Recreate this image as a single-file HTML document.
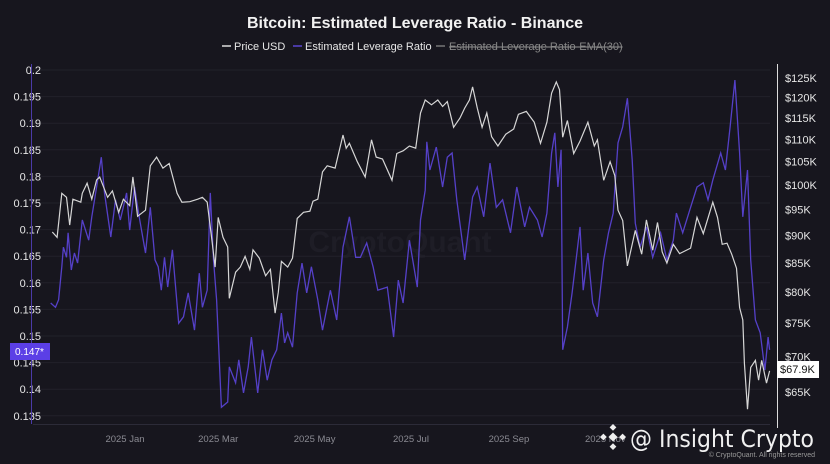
<!DOCTYPE html>
<html><head><meta charset="utf-8"><style>
html,body{margin:0;padding:0;background:#17161e;}
body{width:830px;height:464px;overflow:hidden;font-family:"Liberation Sans",sans-serif;}
svg{display:block}
</style></head><body>
<svg id="chart" width="830" height="464" xmlns="http://www.w3.org/2000/svg">
<rect width="830" height="464" fill="#17161e"/>
<text x="415" y="28" text-anchor="middle" fill="#f2f2f2" font-size="16" font-weight="bold">Bitcoin: Estimated Leverage Ratio - Binance</text>
<g font-size="11" fill="#e6e6e6">
 <g><line x1="222" y1="46" x2="231" y2="46" stroke="#ddd" stroke-width="1.5"/><text x="234" y="50">Price USD</text></g>
 <g><line x1="293" y1="46" x2="302" y2="46" stroke="#5a45d0" stroke-width="1.5"/><text x="305" y="50">Estimated Leverage Ratio</text></g>
 <g><line x1="436" y1="46" x2="445" y2="46" stroke="#777" stroke-width="1.5"/><text x="449" y="50" fill="#888" text-decoration="line-through">Estimated Leverage Ratio-EMA(30)</text></g>
</g>
<text x="400" y="252" text-anchor="middle" fill="#1e1d26" font-size="30" font-weight="bold">CryptoQuant</text>
<g id="grid"></g><g id="axes"></g>
<path id="lev" fill="none" stroke="#5540c8" stroke-width="1.3"/>
<path id="price" fill="none" stroke="#d6d6d6" stroke-width="1.2"/>
<g><rect x="10" y="343" width="40" height="17" fill="#5b3fe6"/><text x="15" y="355" fill="#fff" font-size="10">0.147*</text></g>
<g><rect x="777" y="361" width="42" height="17" fill="#fff"/><text x="780" y="373" fill="#111" font-size="11">$67.9K</text></g>
<g fill="#eee" transform="translate(613,437) scale(0.8)">
 <rect x="-4" y="-4" width="8" height="8" transform="rotate(45)"/>
 <rect x="-3" y="-15" width="6" height="6" transform="rotate(45 0 -12)"/>
 <rect x="-3" y="9" width="6" height="6" transform="rotate(45 0 12)"/>
 <rect x="-15" y="-3" width="6" height="6" transform="rotate(45 -12 0)"/>
 <rect x="9" y="-3" width="6" height="6" transform="rotate(45 12 0)"/>
</g>
<text x="630" y="447" fill="#f0f0f0" font-size="24" textLength="184" lengthAdjust="spacingAndGlyphs" font-family="DejaVu Sans, sans-serif">@ Insight Crypto</text>
<text x="815" y="457" text-anchor="end" fill="#999" font-size="7">© CryptoQuant. All rights reserved</text>
</svg>
<script>
const levTicks=[0.2,0.195,0.19,0.185,0.18,0.175,0.17,0.165,0.16,0.155,0.15,0.145,0.14,0.135];
const levTickLabels=["0.2","0.195","0.19","0.185","0.18","0.175","0.17","0.165","0.16","0.155","0.15","0.145","0.14","0.135"];
const priceTicks=[125,120,115,110,105,100,95,90,85,80,75,70,65];
const priceTickLabels=["$125K","$120K","$115K","$110K","$105K","$100K","$95K","$90K","$85K","$80K","$75K","$70K","$65K"];
const monthDays=[0,59,120,181,243,304];
const monthLabels=["2025 Jan","2025 Mar","2025 May","2025 Jul","2025 Sep","2025 Nov"];
const priceDays=[-46,-43,-40,-37,-35,-33,-28,-27,-24,-21,-18,-16,-11,-8,-4,-1,3,5,8,13,16,20,24,28,33,36,41,46,49,52,55,57,59,62,65,66,70,73,76,79,81,85,89,92,95,97,99,103,106,109,113,117,119,122,125,128,133,138,140,142,147,152,156,159,163,169,172,176,180,184,187,190,194,198,201,204,208,212,215,218,220,223,226,229,232,236,241,246,249,254,259,263,267,270,273,275,277,280,284,288,293,297,299,303,307,310,312,315,318,323,327,330,334,337,340,343,347,351,358,362,366,372,375,378,381,384,387,389,391,392,394,396,399,401,403,406,408];
const priceValues=[90.7,89.7,98.3,97.5,92.0,97.1,96.5,98.3,100.4,97.1,101.1,101.7,97.5,98.8,94.5,97.1,95.8,101.7,93.7,94.9,104.1,106.0,103.6,104.6,98.3,96.5,96.6,97.1,97.5,96.5,89.2,84.3,93.5,89.7,87.9,79.0,83.4,84.3,86.2,83.9,87.4,85.9,82.8,83.9,76.6,80.0,85.3,84.3,85.9,93.3,94.5,94.7,96.7,97.1,102.8,104.1,103.6,111.0,108.0,109.1,105.0,101.7,109.9,106.0,105.6,101.0,106.8,107.4,108.5,108.0,116.2,119.4,118.2,119.4,117.8,119.0,112.8,115.0,117.4,119.4,122.7,117.4,112.8,116.2,110.6,108.5,111.2,112.4,115.9,116.6,114.0,109.1,114.0,121.1,124.0,122.0,110.5,114.4,106.8,109.6,114.0,108.5,109.9,101.0,105.0,102.0,94.9,92.9,84.5,91.0,86.6,93.0,87.3,92.5,87.0,85.0,88.4,86.7,87.7,93.5,90.4,96.5,93.5,88.4,88.6,86.6,84.1,77.5,75.5,69.0,62.7,68.4,69.4,66.6,69.4,66.2,67.9];
const levDays=[-47,-44,-42,-40,-39,-37,-36,-34,-32,-30,-27,-23,-21,-18,-15,-13,-9,-6,-3,1,3,6,9,13,16,19,21,23,25,27,30,34,37,40,44,47,49,52,54,56,58,61,65,66,70,72,75,78,80,84,87,90,93,96,99,101,103,106,109,112,115,118,122,125,130,134,138,142,146,149,153,157,160,166,170,173,176,180,185,187,190,191,193,197,201,204,207,210,215,220,223,227,231,235,239,244,248,253,256,261,264,267,270,272,274,276,277,280,283,286,288,290,293,296,299,303,306,309,312,315,318,321,323,326,330,334,339,343,347,349,353,358,362,366,369,372,377,380,383,386,389,391,394,396,399,402,405,407,408];
const levValues=[0.1562,0.1554,0.1568,0.1630,0.1667,0.1648,0.1694,0.1624,0.1656,0.1637,0.1718,0.1680,0.1724,0.1780,0.1836,0.1769,0.1686,0.1756,0.1718,0.1769,0.1699,0.1780,0.1724,0.1656,0.1742,0.1643,0.1630,0.1586,0.1648,0.1592,0.1662,0.1524,0.1536,0.1581,0.1511,0.1618,0.1554,0.1586,0.1769,0.1643,0.1568,0.1366,0.1376,0.1442,0.1412,0.1455,0.1393,0.1442,0.1498,0.1393,0.1474,0.1417,0.1455,0.1474,0.1543,0.1487,0.1506,0.1479,0.1581,0.1637,0.1581,0.1630,0.1568,0.1511,0.1586,0.1530,0.1667,0.1724,0.1648,0.1648,0.1675,0.1630,0.1586,0.1592,0.1498,0.1605,0.1562,0.1680,0.1592,0.1718,0.1774,0.1865,0.1812,0.1855,0.1780,0.1836,0.1844,0.1756,0.1643,0.1761,0.1780,0.1724,0.1825,0.1742,0.1756,0.1694,0.1780,0.1705,0.1742,0.1718,0.1686,0.1731,0.1844,0.1882,0.1780,0.1850,0.1474,0.1517,0.1581,0.1656,0.1705,0.1586,0.1656,0.1562,0.1536,0.1643,0.1694,0.1731,0.1863,0.1893,0.1947,0.1831,0.1712,0.1667,0.1705,0.1648,0.1694,0.1643,0.1680,0.1731,0.1694,0.1742,0.1780,0.1788,0.1756,0.1793,0.1844,0.1812,0.1893,0.1981,0.1844,0.1724,0.1812,0.1643,0.1530,0.1506,0.1436,0.1498,0.1474];

const NS="http://www.w3.org/2000/svg";
const xS=d=>125+d*1.58;
const yL=v=>70+(0.2-v)/0.005*26.6;
const yP=p=>78+Math.log(125/p)*480;
const grid=document.getElementById('grid'), axes=document.getElementById('axes');
function mk(tag,attrs,parent){const e=document.createElementNS(NS,tag);for(const k in attrs)e.setAttribute(k,attrs[k]);parent.appendChild(e);return e;}
levTicks.forEach((v,i)=>{
  const y=yL(v);
  const g=mk('line',{x1:33,x2:770,y1:y,y2:y,stroke:'#22212a','stroke-width':1},grid);
  
  
  const t=mk('text',{x:41,y:y+4,'text-anchor':'end',fill:'#e6e6e6','font-size':11},axes);
  t.textContent=levTickLabels[i];
  
  
});
priceTicks.forEach((p,i)=>{
  const t=mk('text',{x:785,y:yP(p)+4,fill:'#e6e6e6','font-size':11},axes);
  t.textContent=priceTickLabels[i];
  
  
});
monthDays.forEach((d,i)=>{
  const t=mk('text',{x:xS(d),y:442,'text-anchor':'middle',fill:'#8a8a92','font-size':9.5},axes);
  t.textContent=monthLabels[i];
  
  
});
const la=mk('line',{x1:31.5,x2:31.5,y1:64,y2:424,stroke:'#4b3aa8','stroke-width':1},axes);


const ra=mk('line',{x1:777.5,x2:777.5,y1:64,y2:428,stroke:'#dcdcdc','stroke-width':1},axes);


const ba=mk('line',{x1:33,x2:770,y1:424.5,y2:424.5,stroke:'#2c2b38','stroke-width':1},axes);


document.getElementById('lev').setAttribute('d',levDays.map((d,i)=>(i?'L':'M')+xS(d).toFixed(1)+','+yL(levValues[i]).toFixed(1)).join(''));
document.getElementById('price').setAttribute('d',priceDays.map((d,i)=>(i?'L':'M')+xS(d).toFixed(1)+','+yP(priceValues[i]).toFixed(1)).join(''));
</script>
</body></html>
